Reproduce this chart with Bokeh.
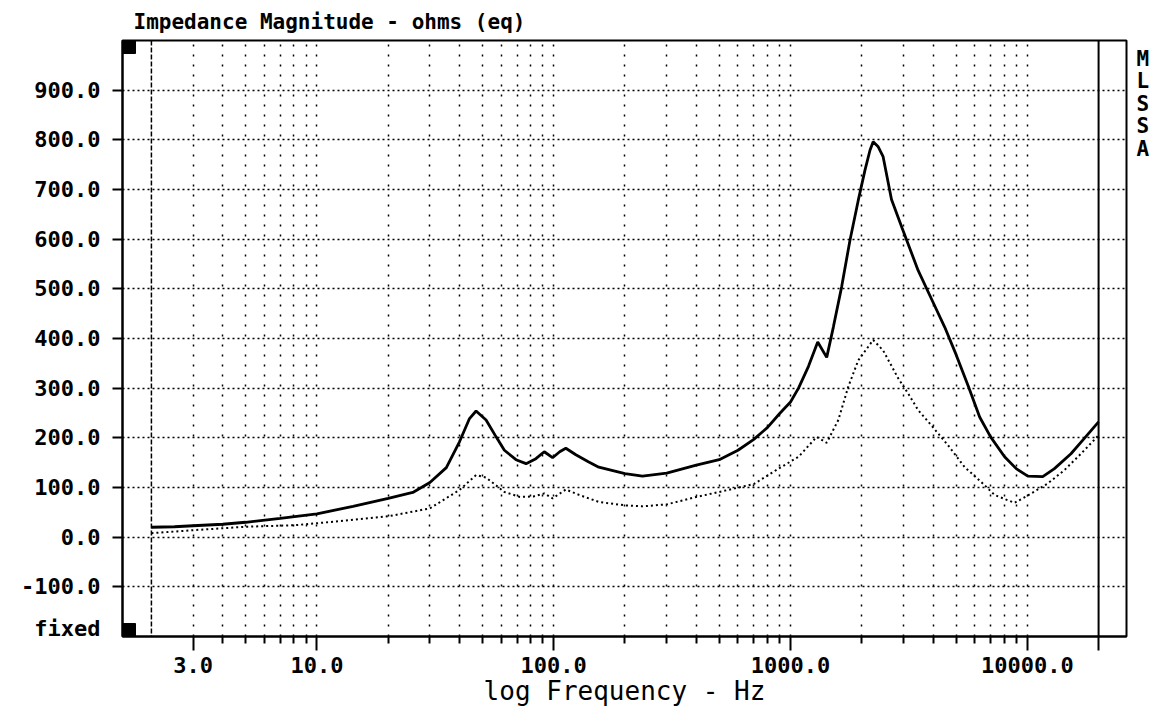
import numpy as np
from bokeh.plotting import figure
from bokeh.models import Range1d, FixedTicker, Span, LinearAxis
from bokeh.embed import file_html
from bokeh.resources import INLINE

# ---- data ----
freq_solid = [2, 2.5, 3, 4, 5, 7, 10, 14.2, 20, 25.4, 30, 35.2, 40, 44, 47, 51.8, 57.1, 61.9, 69.3,
              76.4, 84.1, 91.2, 98.9, 106, 112.5, 124, 140, 155, 200, 237, 300, 400, 500, 600, 700,
              800, 900, 1000, 1081, 1191, 1303, 1422, 1517, 1644, 1783, 1932, 2063, 2166,
              2234, 2347, 2461, 2670, 2962, 3459, 3962, 4478, 5000, 5646, 6291, 6998, 8017,
              8977, 10050, 11620, 13020, 15290, 17410, 20000]
imp_solid = [20, 21, 23, 26, 30, 38, 47, 62, 78, 90, 110, 140, 192, 238, 254, 236, 202, 175, 156,
             148, 158, 172, 160, 172, 179, 166, 152, 141, 128, 123, 129, 145, 156, 175, 197,
             221, 249, 272, 300, 344, 393, 362, 423, 504, 598, 678, 739, 779,
             796, 786, 766, 680, 622, 537, 477, 423, 368, 303, 242, 202, 162,
             138, 123, 122, 138, 168, 199, 232]

freq_dot = [2, 3, 5, 8, 10, 20, 30, 40, 47, 51.8, 61.9, 72, 82, 91.2, 98.9, 112.5, 128, 155, 200, 237,
            300, 400, 500, 700, 891, 1082, 1290, 1422, 1592, 1754, 1932, 2234, 2461, 2849,
            3140, 3459, 3936, 4627, 5440, 6390, 7278, 8832, 10380, 12200, 14340, 16850, 20000]
imp_dot = [8, 14, 21, 24, 28, 42, 58, 95, 125, 120, 91, 81, 82, 88, 78, 96, 85, 71, 64, 62,
           66, 81, 91, 107, 138, 162, 202, 190, 236, 303, 356, 397, 376, 320,
           289, 256, 225, 185, 141, 111, 85, 69, 88, 108, 135, 168, 205]

y_ticks = [-100, 0, 100, 200, 300, 400, 500, 600, 700, 800, 900]
y_fixed_pos = -184
x_major = [3, 10, 100, 1000, 10000, 20000]
x_major_text = ["3.0", "10.0", "100.0", "1000.0", "10000.0", ""]
x_minor = [4, 5, 6, 7, 8, 9, 20, 30, 40, 50, 60, 70, 80, 90,
           200, 300, 400, 500, 600, 700, 800, 900,
           2000, 3000, 4000, 5000, 6000, 7000, 8000, 9000]
x_grid = [3, 4, 5, 6, 7, 8, 9, 10, 20, 30, 40, 50, 60, 70, 80, 90, 100,
          200, 300, 400, 500, 600, 700, 800, 900, 1000,
          2000, 3000, 4000, 5000, 6000, 7000, 8000, 9000, 10000]
f_low, f_high = 2, 20000
side_letters = ["M", "L", "S", "S", "A"]
side_pos = [962, 918, 873, 828, 782]

# ---- figure ----
x_start = 10 ** (np.log10(2) - 29 / 237.5)
x_end = 10 ** (np.log10(20000) + 28 / 237.5)

FONT = "DejaVu Sans Mono"

p = figure(width=1152, height=713, x_axis_type="log",
           x_range=Range1d(x_start, x_end), y_range=Range1d(-200, 1000),
           output_backend="svg", toolbar_location=None,
           min_border_left=122, min_border_right=23, min_border_top=40, min_border_bottom=77)
p.title.text = "Impedance Magnitude - ohms (eq)"
p.title.align = "left"
p.title.offset = 11
p.title.standoff = 14
p.title.text_font = FONT
p.title.text_font_style = "bold"
p.title.text_font_size = "21px"
p.title.text_color = "black"
p.background_fill_color = "white"
p.border_fill_color = "white"
p.outline_line_color = "black"
p.outline_line_width = 2

# x axis
p.xaxis.ticker = FixedTicker(ticks=x_major, minor_ticks=x_minor)
p.xaxis.major_label_overrides = {t: s for t, s in zip(x_major, x_major_text)}
p.xaxis.major_tick_out = 14
p.xaxis.major_tick_in = 0
p.xaxis.minor_tick_out = 7
p.xaxis.minor_tick_in = 0
p.xaxis.major_label_standoff = 6
p.xaxis.axis_label = "log Frequency - Hz"
p.xaxis.axis_label_text_font = FONT
p.xaxis.axis_label_text_font_style = "normal"
p.xaxis.axis_label_text_font_size = "26px"
p.xaxis.axis_label_text_color = "black"
p.xaxis.axis_label_standoff = 0

# inner y axis: tick marks only
p.yaxis.ticker = FixedTicker(ticks=y_ticks, minor_ticks=[])
p.yaxis.major_label_overrides = {t: "" for t in y_ticks}
p.yaxis.major_tick_out = 10
p.yaxis.major_tick_in = 0
p.yaxis.major_label_standoff = 0

# outer y axis: labels only (numbers and "fixed")
lab_ticks = [y_fixed_pos] + y_ticks
lab_axis = LinearAxis(ticker=FixedTicker(ticks=lab_ticks, minor_ticks=[]),
                      major_label_overrides={**{t: f"{t:.1f}" for t in y_ticks}, y_fixed_pos: "fixed"},
                      major_tick_line_color=None, minor_tick_line_color=None,
                      axis_line_color=None, major_tick_out=0, major_tick_in=0,
                      major_label_standoff=12)
p.add_layout(lab_axis, "left")

# right axis: the vertical "MLSSA" letters
side_axis = LinearAxis(ticker=FixedTicker(ticks=side_pos, minor_ticks=[]),
                       major_label_overrides={t: s for t, s in zip(side_pos, side_letters)},
                       major_tick_line_color=None, minor_tick_line_color=None,
                       axis_line_color=None, major_tick_out=0, major_tick_in=0,
                       major_label_standoff=10)
p.add_layout(side_axis, "right")

for ax in (p.xaxis[0], p.yaxis[0]):
    ax.axis_line_width = 2
    ax.axis_line_color = "black"
    ax.major_tick_line_width = 2
    ax.major_tick_line_color = "black"
    ax.minor_tick_line_width = 2
    ax.minor_tick_line_color = "black"
for ax in (p.xaxis[0], lab_axis, side_axis):
    ax.major_label_text_font = FONT
    ax.major_label_text_font_style = "bold"
    ax.major_label_text_font_size = "22px"
    ax.major_label_text_color = "black"
side_axis.major_label_text_font_size = "21px"

# grids
p.ygrid.ticker = FixedTicker(ticks=y_ticks)
p.ygrid.grid_line_color = "black"
p.ygrid.grid_line_width = 1.5
p.ygrid.grid_line_dash = "2 3"
p.xgrid.ticker = FixedTicker(ticks=x_grid)
p.xgrid.grid_line_color = "black"
p.xgrid.grid_line_width = 1.5
p.xgrid.grid_line_dash = "2 8"

# range markers
p.add_layout(Span(location=f_low, dimension="height", line_color="black",
                  line_width=1.5, line_dash="5 2"))
p.add_layout(Span(location=f_high, dimension="height", line_color="black", line_width=2))

# cursor squares at the corners (clipped by the frame)
p.scatter(x=[x_start, x_start], y=[1000, -200], marker="square", size=26,
          color="black", line_color="black")

# curves
p.line(freq_dot, imp_dot, line_color="black", line_width=2, line_dash="2 3")
p.line(freq_solid, imp_solid, line_color="black", line_width=2.8)

open("out.html", "w").write(file_html(p, INLINE))
